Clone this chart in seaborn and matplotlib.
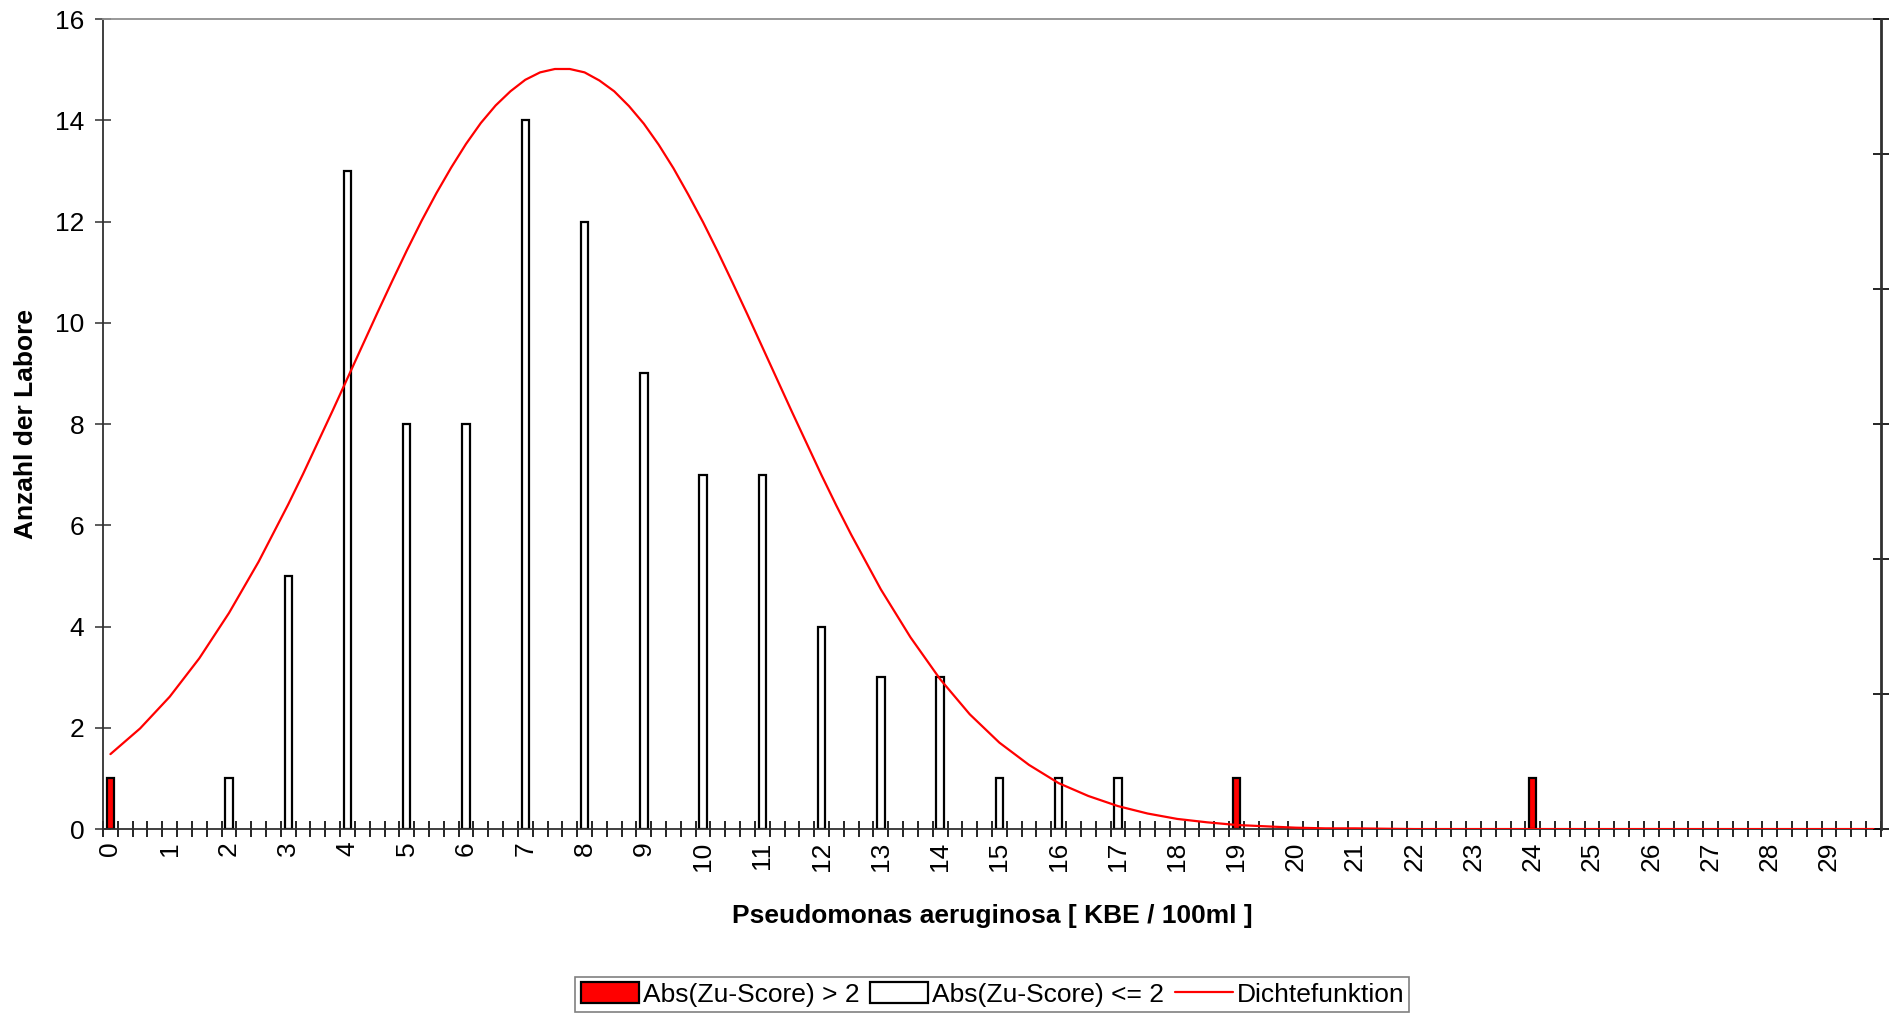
import numpy as np
import pandas as pd
import matplotlib
matplotlib.use("Agg")
import matplotlib.pyplot as plt
from matplotlib.patches import Patch
from matplotlib.lines import Line2D
import seaborn as sns

# counts per value [KBE / 100ml]
outlier_values = [0, 19, 24]          # Abs(Zu-Score) > 2
outlier_counts = [1, 1, 1]
normal_values = [2, 3, 4, 5, 6, 7, 8, 9, 10, 11, 12, 13, 14, 15, 16, 17]
normal_counts = [1, 5, 13, 8, 8, 14, 12, 9, 7, 7, 4, 3, 3, 1, 1, 1]

# density curve (secondary axis)
density_x = [0, 0.5, 1, 1.5, 2, 2.5, 3, 3.25, 3.5, 3.75, 4, 4.25, 4.5, 4.75,
             5, 5.25, 5.5, 5.75, 6, 6.25, 6.5, 6.75, 7, 7.25, 7.5, 7.75,
             8, 8.25, 8.5, 8.75, 9, 9.25, 9.5, 9.75, 10, 10.25, 10.5, 10.75,
             11, 11.25, 11.5, 11.75, 12, 12.25, 12.5, 13, 13.5, 14, 14.5,
             15, 15.5, 16, 16.5, 17, 17.5, 18, 18.5, 19, 19.5, 20, 20.5, 21,
             22, 23, 24, 25, 26, 27, 28, 29, 29.75]
density_y = [0.0111, 0.0149, 0.0196, 0.0253, 0.0320, 0.0396, 0.0481, 0.0526,
             0.0573, 0.0620, 0.0668, 0.0716, 0.0764, 0.0811, 0.0857, 0.0901,
             0.0942, 0.0980, 0.1015, 0.1046, 0.1072, 0.1093, 0.1110, 0.1121,
             0.1126, 0.1126, 0.1121, 0.1109, 0.1093, 0.1071, 0.1045, 0.1014,
             0.0979, 0.0940, 0.0899, 0.0855, 0.0809, 0.0762, 0.0714, 0.0666,
             0.0618, 0.0571, 0.0524, 0.0479, 0.0436, 0.0355, 0.0284, 0.0222,
             0.0170, 0.0128, 0.0095, 0.0068, 0.0049, 0.0034, 0.0023, 0.0015,
             0.0010, 0.0006, 0.0004, 0.0002, 0.0001, 0.0001, 0.0, 0.0, 0.0,
             0.0, 0.0, 0.0, 0.0, 0.0, 0.0]

tick_labels = [str(i) for i in range(30)]

lbl_hi = "Abs(Zu-Score) > 2"
lbl_lo = "Abs(Zu-Score) <= 2"
lbl_d = "Dichtefunktion"

# excel-style category axis: 4 categories per unit, value v sits in category 4v
df = pd.DataFrame({
    "value": outlier_values + normal_values,
    "count": outlier_counts + normal_counts,
    "series": [lbl_hi] * len(outlier_values) + [lbl_lo] * len(normal_values),
})
df["pos"] = df["value"] * 4 + 0.5
dens = pd.DataFrame({"pos": np.array(density_x) * 4 + 0.5, "dens": density_y})

sns.set_style("white")
plt.rcParams["font.family"] = ["Liberation Sans", "DejaVu Sans"]
plt.rcParams.update({
    "text.color": "black",
    "axes.labelcolor": "black",
    "xtick.color": "black",
    "ytick.color": "black",
})

fs = 19

fig = plt.figure(figsize=(18.94, 10.13), dpi=100)
ax = fig.add_axes([0.0544, 0.1816, 0.9387, 0.7996])

min_step = np.diff(np.unique(df["pos"])).min()
sns.barplot(data=df, x="pos", y="count", hue="series", native_scale=True,
            dodge=False, palette={lbl_hi: "#ff0000", lbl_lo: "white"},
            saturation=1, width=0.5 / min_step, edgecolor="black",
            linewidth=1.6, errorbar=None, legend=False, ax=ax)

ax.set_xlim(0, 120)
ax.set_ylim(0, 16)
ax.set_yticks(range(0, 17, 2))
ax.set_xticks([4 * i + 0.5 for i in range(30)])
ax.set_xticklabels(tick_labels, rotation=90)
ax.set_xticks(range(0, 121), minor=True)
ax.tick_params(axis="x", which="major", length=0, pad=9, labelsize=fs,
               bottom=True)
ax.tick_params(axis="x", which="minor", direction="inout", length=11,
               width=1.2, color="black", bottom=True)
ax.tick_params(axis="y", direction="inout", length=11, width=1.2,
               color="#404040", labelsize=fs, pad=8, left=True)
ax.set_xlabel("Pseudomonas aeruginosa [ KBE / 100ml ]", fontsize=fs,
              fontweight="bold", labelpad=24)
ax.set_ylabel("Anzahl der Labore", fontsize=fs, fontweight="bold",
              labelpad=12)
for s in ["left", "bottom"]:
    ax.spines[s].set_color("#303030")
    ax.spines[s].set_linewidth(1.3)
ax.spines["top"].set_color("#909090")
ax.spines["top"].set_linewidth(1.3)
ax.spines["right"].set_visible(False)

ax2 = ax.twinx()
sns.lineplot(data=dens, x="pos", y="dens", color="#ff0000", linewidth=1.6,
             ax=ax2)
ax2.set_ylim(0, 0.12)
ax2.set_yticks(np.linspace(0, 0.12, 7))
ax2.set_yticklabels([])
ax2.set_ylabel("")
ax2.tick_params(axis="y", direction="inout", length=11, width=1.2,
                color="black", right=True)
for s in ["left", "top", "bottom"]:
    ax2.spines[s].set_visible(False)
ax2.spines["right"].set_color("#303030")
ax2.spines["right"].set_linewidth(2)

handles = [Patch(facecolor="#ff0000", edgecolor="black", linewidth=1.6),
           Patch(facecolor="white", edgecolor="black", linewidth=1.6),
           Line2D([], [], color="#ff0000", linewidth=1.6)]
leg = fig.legend(handles, [lbl_hi, lbl_lo, lbl_d], loc="lower center",
                 bbox_to_anchor=(0.524, 0.001), ncol=3, fontsize=fs,
                 frameon=True, fancybox=False, handlelength=2.2,
                 handleheight=0.8, handletextpad=0.15, columnspacing=0.4,
                 borderpad=0.2, borderaxespad=0)
leg.get_frame().set_edgecolor("#606060")
leg.get_frame().set_linewidth(1.2)

fig.savefig("out.png", dpi=100)
